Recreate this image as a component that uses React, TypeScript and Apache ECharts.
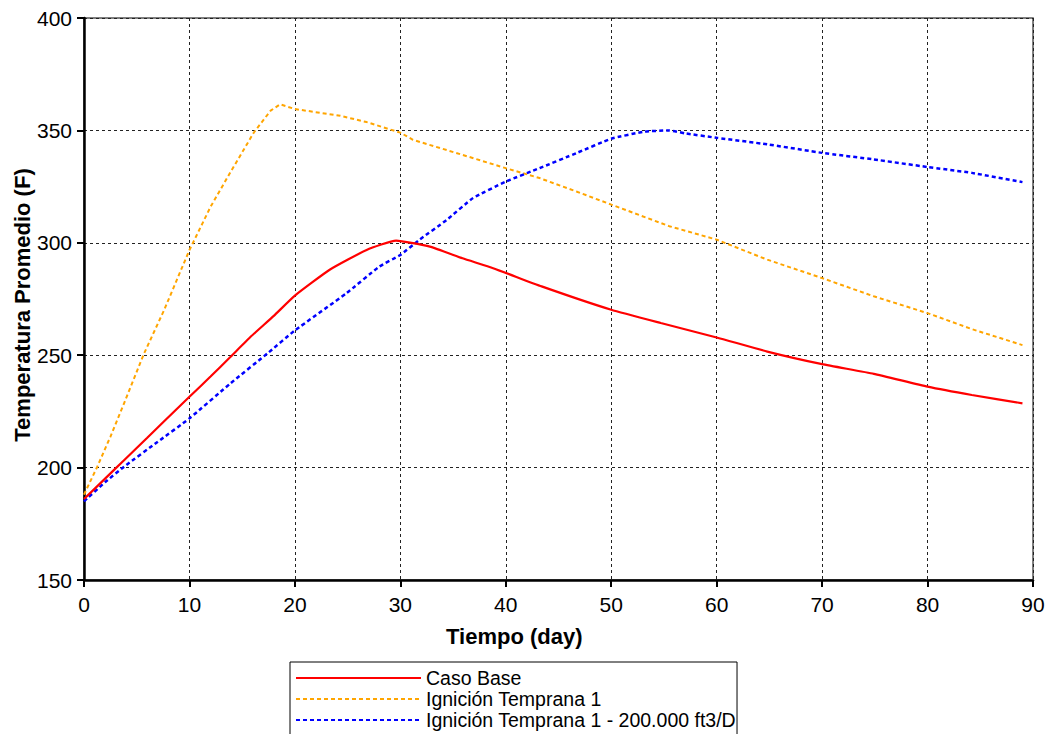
import React, { useEffect, useRef } from "react";
import * as echarts from "echarts";

const seriesNames = ["Caso Base", "Ignición Temprana 1", "Ignición Temprana 1 - 200.000 ft3/D"];

const casoBaseDays = [0, 2, 3.8, 6, 7.6, 10, 12, 13.9, 15.8, 18, 20, 23.3, 26.8, 29.6, 32.8, 35.9, 38.8, 43.4, 50, 54.7, 60, 64.8, 70, 74.9, 80, 84.2, 89];
const casoBaseTemps = [186, 195.1, 203.3, 213.3, 220.6, 231.5, 240.5, 249.3, 258.2, 267.5, 276.5, 288, 296.8, 301, 298.3, 293.1, 288.7, 280.6, 270.2, 264.3, 257.9, 251.6, 246, 241.7, 236, 232.3, 228.6];

const ignicionDays = [0, 1.26, 2.5, 3.8, 5.7, 7.6, 10, 12, 13.9, 16.1, 17.7, 18.6, 20, 24.3, 26.8, 30, 31.2, 35.9, 40, 43.2, 46.7, 50, 55.5, 60, 64.8, 70, 74.9, 80, 84.2, 89];
const ignicionTemps = [188, 200.4, 213.7, 228.6, 250.8, 270.1, 296.8, 316, 331.5, 349, 358.8, 361.6, 359.5, 356.5, 353.7, 349, 345.8, 339.1, 333.2, 328.8, 322.8, 317, 307.4, 301.4, 292.5, 284.3, 276.2, 268.7, 261.6, 254.5];

const ignicion200Days = [0, 2, 3.8, 7, 10, 13.9, 17.4, 20, 24.9, 28, 30, 31.8, 34.4, 36.9, 40, 43.2, 46.7, 50, 53.1, 55.5, 57, 60, 64.8, 70, 74.9, 80, 84.2, 89];
const ignicion200Temps = [185, 193.5, 200.4, 211.5, 221.9, 237.5, 250.8, 261, 277.6, 289.4, 294.6, 301.3, 310.2, 319.9, 327.2, 333.2, 339.9, 346.3, 349.4, 350, 348.7, 346.7, 343.8, 340, 337.1, 333.7, 331.1, 327];

const xMin = 0, xMax = 90, xInterval = 10;
const yMin = 150, yMax = 400, yInterval = 50;

const xTitle = "Tiempo (day)";
const yTitle = "Temperatura Promedio (F)";

const FONT = "'Liberation Sans', Arial, sans-serif";

function pairs(xs: number[], ys: number[]) {
  return xs.map((x, i) => [x, ys[i]]);
}

export default function App() {
  const ref = useRef<HTMLDivElement>(null);
  useEffect(() => {
    if (!ref.current) return;
    const chart = echarts.init(ref.current, undefined, { renderer: "svg" });
    chart.setOption({
      animation: false,
      backgroundColor: "#ffffff",
      textStyle: { fontFamily: FONT },
      grid: {
        left: 84,
        right: 14,
        top: 18,
        bottom: 154,
        show: true,
        containLabel: false,
        outerBoundsMode: "none",
        borderColor: "#555",
        borderWidth: 1.5,
        backgroundColor: "transparent",
      },
      xAxis: {
        type: "value",
        min: xMin,
        max: xMax,
        interval: xInterval,
        axisLine: { show: true, onZero: false, lineStyle: { color: "#000", width: 2.5 } },
        axisTick: { show: true, length: 7, lineStyle: { color: "#000", width: 2 } },
        axisLabel: { color: "#000", fontSize: 21, fontFamily: FONT, margin: 14 },
        splitLine: { show: true, lineStyle: { color: "#222", width: 1, type: [3, 3] } },
      },
      yAxis: {
        type: "value",
        min: yMin,
        max: yMax,
        interval: yInterval,
        axisLine: { show: true, onZero: false, lineStyle: { color: "#000", width: 2.5 } },
        axisTick: { show: true, length: 7, lineStyle: { color: "#000", width: 2 } },
        axisLabel: { color: "#000", fontSize: 21, fontFamily: FONT, margin: 12 },
        splitLine: { show: true, lineStyle: { color: "#222", width: 1, type: [3, 3] } },
      },
      legend: {
        orient: "vertical",
        left: 290,
        top: 662,
        height: 70,
        padding: [6, 1, 30, 5],
        itemWidth: 125,
        itemHeight: 20,
        itemGap: 1,
        borderColor: "#000",
        borderWidth: 1,
        backgroundColor: "#fff",
        itemStyle: { opacity: 0 },
        textStyle: { color: "#000", fontSize: 19.5, fontFamily: FONT, padding: [0, 0, 0, 0] },
        data: seriesNames,
      },
      graphic: [
        {
          type: "text",
          left: 446,
          top: 625,
          style: { text: xTitle, fill: "#000", font: `bold 22px ${FONT}` },
        },
        {
          type: "text",
          x: 22,
          y: 305,
          rotation: Math.PI / 2,
          style: {
            text: yTitle,
            fill: "#000",
            font: `bold 22px ${FONT}`,
            align: "center",
            verticalAlign: "middle",
          },
        },
      ],
      series: [
        {
          name: seriesNames[0],
          type: "line",
          data: pairs(casoBaseDays, casoBaseTemps),
          symbol: "none",
          smooth: 0.15,
          z: 3,
          lineStyle: { color: "#ff0000", width: 2.2, type: "solid" },
          itemStyle: { color: "#ff0000" },
        },
        {
          name: seriesNames[1],
          type: "line",
          data: pairs(ignicionDays, ignicionTemps),
          symbol: "none",
          smooth: false,
          z: 2,
          lineStyle: { color: "#ffa500", width: 2, type: [4, 3] },
          itemStyle: { color: "#ffa500" },
        },
        {
          name: seriesNames[2],
          type: "line",
          data: pairs(ignicion200Days, ignicion200Temps),
          symbol: "none",
          smooth: 0.15,
          z: 2,
          lineStyle: { color: "#0000ff", width: 2.5, type: [4, 3] },
          itemStyle: { color: "#0000ff" },
        },
      ],
    });
    return () => chart.dispose();
  }, []);
  return (
    <div
      ref={ref}
      style={{ position: "fixed", left: 0, top: 0, width: 1047, height: 734, background: "#fff" }}
    />
  );
}
